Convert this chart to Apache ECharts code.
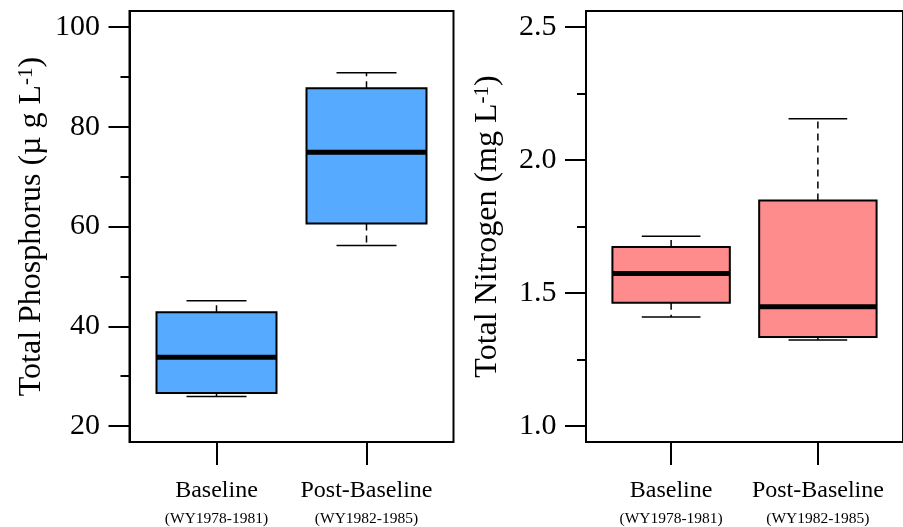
<!DOCTYPE html>
<html><head><meta charset="utf-8">
<script src="https://cdn.jsdelivr.net/npm/echarts@6/dist/echarts.min.js"></script>
<style>html,body{margin:0;padding:0;background:#fff}#c{width:903px;height:527px}</style>
</head><body><div id="c"></div>
<script>
const categories = ['Baseline', 'Post-Baseline'];
const periods = ['(WY1978-1981)', '(WY1982-1985)'];
const positions = [1, 2];

const tpMin = [25.9, 56.2];
const tpQ1  = [26.6, 60.6];
const tpMed = [33.8, 74.9];
const tpQ3  = [42.8, 87.7];
const tpMax = [45.1, 90.8];

const tnMin = [1.410, 1.323];
const tnQ1  = [1.463, 1.335];
const tnMed = [1.573, 1.448];
const tnQ3  = [1.673, 1.848];
const tnMax = [1.713, 2.155];

const tpTicks = [20, 40, 60, 80, 100];
const tpMinorTicks = [30, 50, 70, 90];
const tnTicks = [1.0, 1.5, 2.0, 2.5];
const tnMinorTicks = [1.25, 1.75, 2.25];

const FONT = '"Liberation Serif", "Times New Roman", serif';

function renderBox(params, api) {
  const x = api.value(0);
  const pMin = api.coord([x, api.value(1)]);
  const pQ1 = api.coord([x, api.value(2)]);
  const pMed = api.coord([x, api.value(3)]);
  const pQ3 = api.coord([x, api.value(4)]);
  const pMax = api.coord([x, api.value(5)]);
  const bw = api.size([0.8, 0])[0];
  const cx = pMed[0];
  const stroke = '#000';
  const wl = {stroke: stroke, lineWidth: 1.5, lineDash: [7, 5]};
  const cl = {stroke: stroke, lineWidth: 1.5};
  return {
    type: 'group',
    children: [
      {type: 'line', shape: {x1: cx, y1: pQ3[1], x2: cx, y2: pMax[1]}, style: wl},
      {type: 'line', shape: {x1: cx, y1: pQ1[1], x2: cx, y2: pMin[1]}, style: wl},
      {type: 'line', shape: {x1: cx - bw / 4, y1: pMax[1], x2: cx + bw / 4, y2: pMax[1]}, style: cl},
      {type: 'line', shape: {x1: cx - bw / 4, y1: pMin[1], x2: cx + bw / 4, y2: pMin[1]}, style: cl},
      {type: 'rect', shape: {x: cx - bw / 2, y: pQ3[1], width: bw, height: pQ1[1] - pQ3[1]},
        style: {fill: api.visual('color'), stroke: stroke, lineWidth: 2}},
      {type: 'line', shape: {x1: cx - bw / 2, y1: pMed[1], x2: cx + bw / 2, y2: pMed[1]},
        style: {stroke: stroke, lineWidth: 5}}
    ]
  };
}

function xAxisFor(gridIndex) {
  return {
    type: 'value', gridIndex: gridIndex, min: 0.42, max: 2.58,
    splitLine: {show: false},
    axisLine: {show: false},
    axisTick: {show: true, length: 23, inside: false, customValues: positions,
      lineStyle: {color: '#000', width: 2}},
    axisLabel: {
      show: true, customValues: positions, margin: 33,
      formatter: function (v) {
        const i = positions.indexOf(Math.round(v));
        return '{a|' + categories[i] + '}\n{b|' + periods[i] + '}';
      },
      rich: {
        a: {fontFamily: FONT, fontSize: 24, color: '#000', lineHeight: 32},
        b: {fontFamily: FONT, fontSize: 15.5, color: '#000', lineHeight: 24}
      }
    }
  };
}

function yAxisFor(gridIndex, min, max, ticks, fmt, name, gap) {
  return {
    type: 'value', gridIndex: gridIndex, min: min, max: max, position: 'left',
    splitLine: {show: false},
    axisLine: {show: true, lineStyle: {color: '#000', width: 2}},
    axisTick: {show: true, length: 21, inside: false, customValues: ticks,
      lineStyle: {color: '#000', width: 2}},
    axisLabel: {show: true, customValues: ticks, margin: 29.5, formatter: fmt,
      fontFamily: FONT, fontSize: 30, color: '#000'},
    name: name, nameLocation: 'middle', nameGap: gap,
    nameTextStyle: {fontFamily: FONT, fontSize: 32, color: '#000',
      rich: {
        m: {fontFamily: FONT, fontSize: 32, color: '#000'},
        s: {fontFamily: FONT, fontSize: 21, color: '#000', verticalAlign: 'top'}
      }}
  };
}

function minorYAxisFor(gridIndex, min, max, ticks) {
  return {
    type: 'value', gridIndex: gridIndex, min: min, max: max, position: 'left', offset: 0,
    splitLine: {show: false},
    axisLine: {show: false},
    axisTick: {show: true, length: 9, inside: false, customValues: ticks,
      lineStyle: {color: '#000', width: 2}},
    axisLabel: {show: false}
  };
}

const chart = echarts.init(document.getElementById('c'), null, {renderer: 'canvas'});
chart.setOption({
  animation: false,
  backgroundColor: '#fff',
  grid: [
    {left: 129.5, right: 449.5, top: 11, bottom: 85, show: true, borderColor: '#000', borderWidth: 2, containLabel: false},
    {left: 586, right: -7, top: 11, bottom: 85, show: true, borderColor: '#000', borderWidth: 2, containLabel: false}
  ],
  xAxis: [xAxisFor(0), xAxisFor(1)],
  yAxis: [
    yAxisFor(0, 16.8, 103.2, tpTicks, function (v) { return String(Math.round(v)); },
      '{m|Total Phosphorus (µ g L}{s|-1}{m|)}', 82),
    yAxisFor(1, 0.94, 2.56, tnTicks, function (v) { return v.toFixed(1); },
      '{m|Total Nitrogen (mg L}{s|-1}{m|)}', 82),
    minorYAxisFor(0, 16.8, 103.2, tpMinorTicks),
    minorYAxisFor(1, 0.94, 2.56, tnMinorTicks)
  ],
  series: [
    {
      type: 'custom', xAxisIndex: 0, yAxisIndex: 0,
      itemStyle: {color: '#56AAFF'},
      renderItem: renderBox,
      encode: {x: 0, y: [1, 2, 3, 4, 5]},
      data: positions.map(function (p, i) { return [p, tpMin[i], tpQ1[i], tpMed[i], tpQ3[i], tpMax[i]]; })
    },
    {
      type: 'custom', xAxisIndex: 1, yAxisIndex: 1,
      itemStyle: {color: '#FF8C8C'},
      renderItem: renderBox,
      encode: {x: 0, y: [1, 2, 3, 4, 5]},
      data: positions.map(function (p, i) { return [p, tnMin[i], tnQ1[i], tnMed[i], tnQ3[i], tnMax[i]]; })
    }
  ]
});
</script>
</body></html>
